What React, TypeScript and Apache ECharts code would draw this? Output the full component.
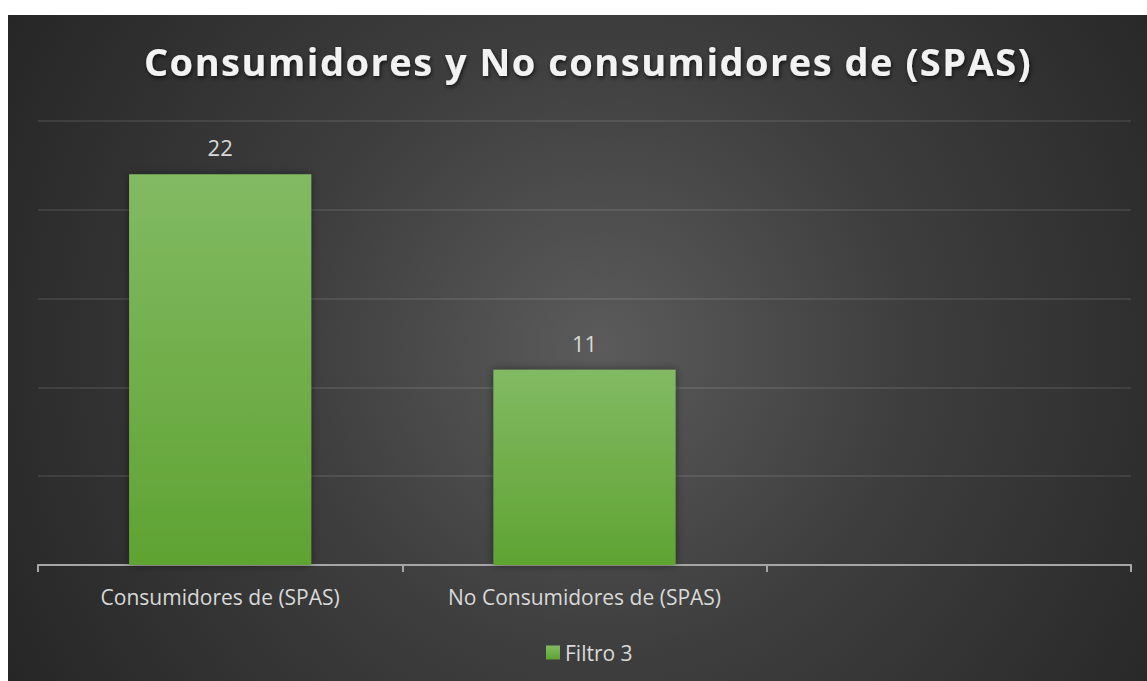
import React, { useEffect, useRef } from "react";
import * as echarts from "echarts";

const categories = ["Consumidores de (SPAS)", "No Consumidores de (SPAS)", ""];
const seriesName = "Filtro 3";
const values: (number | null)[] = [22, 11, null];
const yMin = 0;
const yMax = 25;
const yInterval = 5;
const titleText = "Consumidores y No consumidores de (SPAS)";

export default function App() {
  const ref = useRef<HTMLDivElement>(null);
  useEffect(() => {
    if (!ref.current) return;
    const chart = echarts.init(ref.current, undefined, { renderer: "svg" });
    const font = "'Open Sans', 'DejaVu Sans', sans-serif";
    chart.setOption({
      animation: false,
      backgroundColor: "transparent",
      graphic: [
        {
          type: "text",
          x: 580,
          y: 46,
          style: {
            text: titleText,
            fill: "#f2f2f2",
            fontSize: 38,
            fontWeight: "bold",
            fontFamily: font,
            textAlign: "center",
            textVerticalAlign: "middle",
            textShadowColor: "rgba(0,0,0,0.7)",
            textShadowBlur: 4,
            textShadowOffsetX: 1,
            textShadowOffsetY: 2,
          },
        },
      ],
      legend: {
        data: [seriesName],
        left: 533,
        top: 622,
        itemWidth: 14,
        itemHeight: 14,
        icon: "rect",
        textStyle: { color: "#d9d9d9", fontSize: 21, fontFamily: font },
      },
      grid: { left: 30, right: 16, top: 106, bottom: 116, containLabel: false },
      xAxis: {
        type: "category",
        data: categories,
        axisLine: { lineStyle: { color: "#a6a6a6", width: 2 } },
        axisTick: { show: true, length: 7, lineStyle: { color: "#a6a6a6", width: 2 } },
        axisLabel: { color: "#d9d9d9", fontSize: 21, fontFamily: font, margin: 21 },
      },
      yAxis: {
        type: "value",
        min: yMin,
        max: yMax,
        interval: yInterval,
        axisLabel: { show: false },
        axisLine: { show: false },
        axisTick: { show: false },
        splitLine: { lineStyle: { color: "rgba(255,255,255,0.12)", width: 1.5 } },
      },
      series: [
        {
          name: seriesName,
          type: "bar",
          data: values,
          barWidth: "50%",
          itemStyle: {
            color: new echarts.graphic.LinearGradient(0, 0, 0, 1, [
              { offset: 0, color: "#82ba63" },
              { offset: 1, color: "#5fa332" },
            ]),
            shadowColor: "rgba(0,0,0,0.45)",
            shadowBlur: 8,
          },
          label: {
            show: true,
            position: "top",
            distance: 16,
            color: "#d9d9d9",
            fontSize: 22,
            fontFamily: font,
          },
        },
      ],
    });
    const texts = ref.current.querySelectorAll("text");
    texts.forEach((t) => {
      if (t.textContent === titleText) {
        (t as SVGTextElement).style.letterSpacing = "1.5px";
      }
    });
    return () => chart.dispose();
  }, []);
  return (
    <div
      ref={ref}
      style={{
        position: "absolute",
        left: 8,
        top: 15,
        width: 1139,
        height: 666,
        background:
          "radial-gradient(circle farthest-corner at 52% 50%, #5b5b5b 0%, #3e3e3e 45%, #262626 100%)",
      }}
    />
  );
}
